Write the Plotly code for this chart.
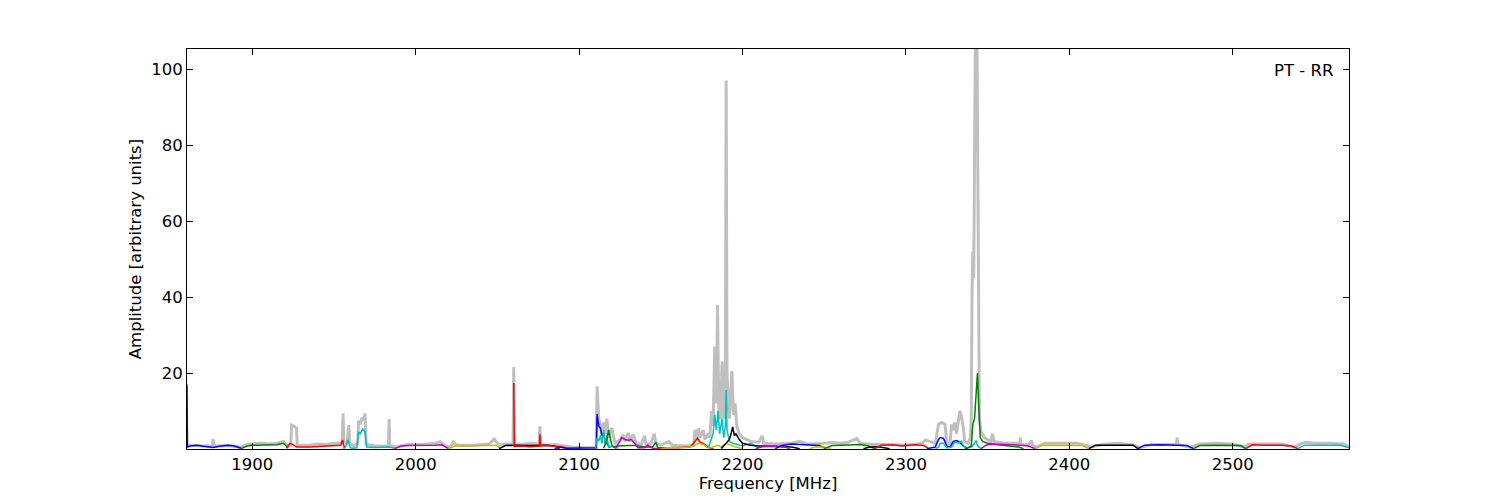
import plotly.graph_objects as go

# ---------------- data ----------------
# gray full spectrum
gray_f = [1860, 1862, 1870, 1875.5, 1876, 1876.5, 1885, 1893, 1897, 1905, 1910, 1915, 1919, 1921,
          1923.5, 1924, 1925.5, 1927, 1927.5, 1935, 1940, 1945, 1950, 1955, 1955.5, 1956, 1958, 1959,
          1959.7, 1962, 1964.5, 1965, 1966, 1967, 1968, 1969, 1969.6, 1975, 1983.3, 1983.7, 1984.1,
          1988, 1995, 2005, 2012, 2015, 2018, 2021, 2023, 2025, 2035, 2045, 2048, 2051, 2055, 2059.6,
          2060, 2060.4, 2065, 2070, 2075.6, 2076, 2076.4, 2080, 2085, 2090, 2095, 2105, 2110.5, 2111,
          2112, 2113, 2114, 2115, 2116, 2117, 2118, 2120, 2122, 2125, 2127, 2128, 2130, 2131, 2133,
          2135, 2138, 2140, 2141, 2144, 2146, 2147, 2150, 2155, 2157, 2165, 2170, 2171, 2172, 2173,
          2174, 2176, 2177, 2179, 2180, 2181, 2182, 2183, 2184, 2184.7, 2185.5, 2186.5, 2187.5, 2188.5,
          2189.5, 2190, 2190.5, 2191.5, 2192, 2193.5, 2194.5, 2195.5, 2196.5, 2198, 2200, 2205, 2210,
          2212, 2213, 2220, 2230, 2235, 2240, 2250, 2255, 2260, 2265, 2270, 2272, 2280, 2290, 2300,
          2310, 2312, 2316, 2318, 2320, 2322, 2324, 2325, 2327, 2328, 2329, 2330, 2331, 2333, 2334,
          2335, 2336, 2338, 2339.5, 2340, 2340.5, 2341, 2341.5, 2342, 2342.5, 2343.5, 2344, 2344.5,
          2345, 2346, 2348, 2350, 2352, 2353, 2354, 2360, 2365, 2369.8, 2370, 2370.3, 2375, 2377,
          2377.5, 2380, 2385, 2395, 2405, 2410, 2413, 2420, 2430, 2440, 2443, 2450, 2465.5, 2466,
          2466.5, 2474, 2480, 2490, 2500, 2507, 2510, 2530, 2538, 2542, 2545, 2550, 2560, 2568, 2571.2]
gray_a = [1.0, 1.0, 0.8, 0.8, 2.6, 0.8, 0.9, 0.5, 1.2, 1.6, 1.3, 1.5, 2.0, 1.0,
          1.0, 6.3, 6.0, 5.5, 1.0, 1.0, 1.3, 1.2, 1.5, 1.5, 9.4, 2.0, 1.5, 6.3,
          1.5, 0.8, 1.5, 7.5, 6.5, 8.2, 7.5, 9.3, 1.2, 0.8, 0.8, 7.9, 0.8,
          0.5, 1.2, 1.2, 1.5, 1.9, 0.8, 0.5, 1.8, 1.0, 1.0, 1.3, 2.6, 1.0, 1.3, 1.3,
          21.6, 1.3, 1.2, 1.5, 1.3, 6.0, 1.3, 1.0, 1.2, 0.8, 0.5, 0.3, 0.3, 16.5,
          8.0, 6.5, 3.0, 7.0, 4.0, 8.0, 3.0, 5.5, 1.5, 2.5, 3.7, 2.0, 4.3, 2.0, 3.8,
          1.5, 1.2, 3.5, 1.2, 1.5, 4.0, 1.5, 1.0, 2.0, 1.0, 0.8, 1.0, 5.0, 2.5, 5.5,
          3.0, 5.0, 2.5, 4.0, 3.0, 10.0, 6.0, 27.0, 12.0, 37.9, 10.0, 8.0, 23.0, 8.0,
          20.0, 97.0, 20.0, 10.0, 8.0, 20.5, 9.0, 12.0, 6.0, 4.0, 3.0, 2.0, 1.8,
          3.5, 1.5, 1.3, 1.5, 2.0, 1.3, 1.5, 1.7, 1.5, 1.8, 2.8, 1.5, 1.2, 1.2, 1.0,
          1.5, 2.4, 1.8, 1.5, 6.5, 7.0, 6.5, 1.5, 1.5, 6.5, 5.0, 7.0, 4.0, 10.0, 8.5,
          6.0, 2.0, 1.5, 3.0, 8.0, 42.0, 52.0, 45.0, 70.0, 108.0, 108.0, 60.0, 20.0,
          8.0, 4.5, 3.0, 2.5, 2.0, 4.0, 2.0, 1.5, 1.5, 1.5, 3.0, 1.2, 1.2, 2.2,
          1.0, 0.5, 1.5, 1.5, 1.5, 1.0, 0.5, 1.2, 1.5, 1.0, 0.3, 1.2, 1.2, 3.0,
          1.2, 0.5, 1.3, 1.5, 1.3, 0.5, 1.3, 1.3, 0.5, 1.5, 1.8, 1.5, 1.5, 1.3, 0.5]

# sub-band spectra (frequency list, amplitude list)
band01 = ([1860, 1860.3, 1862, 1866, 1870, 1876, 1880, 1885, 1889, 1893],
          [17.0, 0.5, 0.8, 1.0, 0.7, 0.4, 0.7, 1.0, 0.8, 0.2])
band02 = ([1893, 1897, 1900, 1905, 1910, 1915, 1919, 1922],
          [0.1, 0.8, 1.0, 1.0, 1.0, 1.1, 1.5, 0.3])
band03 = ([1921, 1923, 1924.5, 1927, 1935, 1945, 1950, 1954, 1955.3, 1955.6, 1956.5],
          [0.2, 1.5, 1.3, 0.5, 0.5, 0.8, 1.0, 1.0, 2.4, 1.5, 0.2])
band04 = ([1955.5, 1957, 1958.5, 1959, 1960, 1962, 1964, 1965, 1966, 1967.5, 1969, 1970, 1975, 1983.7, 1987],
          [0.2, 0.5, 2.4, 1.8, 0.3, 0.2, 0.3, 4.5, 4.0, 5.3, 4.5, 0.5, 0.4, 0.5, 0.2])
band05 = ([1987, 1991, 1995, 2005, 2012, 2016, 2020],
          [0.1, 0.8, 0.9, 0.9, 1.0, 1.1, 0.1])
band06 = ([2020, 2024, 2030, 2040, 2046, 2049, 2052],
          [0.1, 0.8, 0.8, 0.9, 1.0, 1.0, 0.1])
band07 = ([2051, 2055, 2060, 2070, 2080, 2085, 2088],
          [0.1, 0.9, 1.0, 0.9, 1.0, 0.8, 0.1])
band08 = ([2060, 2060.3, 2065, 2070, 2075.7, 2076, 2076.3, 2080, 2085, 2090, 2093],
          [17.4, 0.7, 0.8, 0.6, 0.8, 3.9, 0.8, 1.0, 0.7, 0.5, 0.1])
band09 = ([2085, 2088, 2092, 2100, 2108, 2110.5, 2111, 2112, 2113, 2114, 2115, 2116, 2117, 2119],
          [0.1, 0.5, 0.2, 0.2, 0.2, 0.3, 9.2, 6.0, 5.5, 3.5, 4.0, 2.0, 1.5, 0.3])
band10 = ([2110, 2111, 2112, 2113, 2114, 2115, 2116, 2117, 2118, 2120, 2122, 2124],
          [0.2, 3.0, 2.0, 3.5, 1.5, 5.0, 1.0, 3.5, 0.5, 0.8, 0.5, 0.2])
band11 = ([2115, 2117, 2118, 2119, 2120, 2121, 2124, 2130, 2135, 2140, 2145, 2147, 2148, 2150],
          [0.2, 2.5, 5.0, 3.0, 1.0, 0.5, 0.8, 0.9, 0.9, 0.5, 0.5, 1.8, 0.5, 0.1])
band12 = ([2122, 2125, 2126, 2128, 2130, 2132, 2134, 2136, 2140, 2142, 2145, 2150],
          [0.1, 2.0, 3.0, 2.5, 2.3, 2.5, 1.5, 0.3, 0.3, 1.0, 0.2, 0.1])
band13 = ([2148, 2150, 2160, 2168, 2170, 2172.5, 2174, 2176, 2180, 2182],
          [0.1, 0.3, 0.3, 0.5, 1.5, 2.8, 1.8, 1.5, 0.3, 0.1])
band14 = ([2150, 2155, 2165, 2170, 2173, 2176, 2178, 2180, 2185, 2187, 2190, 2196, 2200],
          [0.1, 0.4, 0.4, 0.8, 1.5, 1.2, 0.5, 0.3, 1.0, 0.5, 1.5, 0.5, 0.1])
band15 = ([2179, 2181, 2182, 2183, 2184, 2185, 2186, 2187.5, 2188.5, 2189.5, 2190, 2190.5, 2192, 2194, 2196, 2200, 2205, 2210],
          [0.2, 3.0, 4.0, 9.0, 5.0, 10.0, 4.0, 8.0, 3.0, 6.0, 15.5, 5.0, 2.0, 1.5, 1.2, 0.8, 1.5, 0.3])
band16 = ([2187, 2190, 2192, 2193, 2194, 2195, 2196, 2198, 2200, 2205, 2210, 2220, 2230, 2235],
          [0.1, 1.5, 2.5, 4.0, 5.8, 3.5, 4.0, 2.5, 1.5, 1.0, 0.8, 0.7, 0.5, 0.1])
band17 = ([2208, 2212, 2220, 2226, 2229],
          [0.1, 0.6, 0.7, 0.5, 0.1])
band18 = ([2220, 2224, 2230, 2235, 2240, 2247, 2251],
          [0.1, 0.9, 1.3, 1.2, 1.1, 0.9, 0.1])
band19 = ([2241, 2245, 2250, 2254],
          [0.1, 0.6, 0.5, 0.1])
band20 = ([2250, 2255, 2260, 2268, 2272, 2277, 2281],
          [0.1, 0.9, 1.0, 1.1, 1.2, 0.8, 0.1])
band21 = ([2274, 2278, 2283, 2287, 2290],
          [0.1, 0.5, 0.6, 0.3, 0.1])
band22 = ([2281, 2285, 2292, 2298, 2301, 2306, 2311, 2314],
          [0.1, 1.0, 1.1, 0.8, 1.0, 1.1, 0.9, 0.1])
band23 = ([2313, 2316, 2318, 2320, 2321, 2323, 2325, 2327, 2329, 2331, 2333, 2335, 2338],
          [0.1, 0.3, 0.5, 2.5, 3.0, 2.8, 0.8, 0.5, 2.0, 2.2, 1.8, 0.8, 0.1])
band24 = ([2318, 2320, 2321, 2323, 2325, 2328, 2330, 2332, 2334, 2335, 2337, 2340, 2342, 2343, 2344, 2346],
          [0.1, 0.5, 1.5, 1.5, 0.3, 0.5, 1.8, 1.5, 2.0, 1.0, 0.3, 0.5, 1.5, 2.2, 0.8, 0.1])
band25 = ([2336, 2338, 2340, 2341, 2342, 2343, 2343.8, 2344.5, 2345.5, 2347, 2350, 2355, 2360, 2365, 2369, 2372],
          [0.1, 0.3, 0.8, 6.5, 8.0, 15.0, 20.0, 12.0, 3.0, 2.0, 1.5, 1.2, 1.0, 0.8, 0.5, 0.1])
band26 = ([2346, 2349, 2352, 2360, 2370, 2375, 2379],
          [0.1, 1.0, 1.3, 1.2, 1.0, 0.8, 0.1])
band27 = ([2379, 2383, 2390, 2400, 2408, 2412],
          [0.1, 0.9, 1.0, 1.0, 0.9, 0.1])
band28 = ([2412, 2416, 2425, 2435, 2439, 2442],
          [0.1, 1.0, 1.0, 1.1, 1.0, 0.1])
band29 = ([2442, 2446, 2455, 2466, 2472, 2476],
          [0.1, 1.0, 1.1, 1.0, 0.9, 0.1])
band30 = ([2476, 2480, 2490, 2500, 2505, 2508],
          [0.1, 0.9, 1.0, 1.0, 0.9, 0.1])
band31 = ([2508, 2512, 2520, 2530, 2536, 2540],
          [0.1, 1.1, 1.0, 1.0, 0.8, 0.1])
band32 = ([2540, 2544, 2550, 2560, 2566, 2571.2],
          [0.1, 1.0, 1.0, 1.0, 1.0, 0.3])

bands = [band01, band02, band03, band04, band05, band06, band07, band08,
         band09, band10, band11, band12, band13, band14, band15, band16,
         band17, band18, band19, band20, band21, band22, band23, band24,
         band25, band26, band27, band28, band29, band30, band31, band32]
band_colors = ["b", "g", "r", "c", "m", "y", "k", "r",
               "b", "c", "g", "m", "r", "y", "c", "k",
               "m", "b", "y", "g", "k", "r", "b", "c",
               "g", "m", "y", "k", "b", "g", "r", "c"]

x_ticks = [1900, 2000, 2100, 2200, 2300, 2400, 2500]
y_ticks = [20, 40, 60, 80, 100]
label_text = "PT - RR"

# ---------------- style ----------------
MPL = {"b": "#0000ff", "g": "#008000", "r": "#ff0000", "c": "#00bfbf",
       "m": "#bf00bf", "y": "#bfbf00", "k": "#000000"}
FONT = "DejaVu Sans"

fig = go.Figure()
fig.add_trace(go.Scatter(x=gray_f, y=gray_a, mode="lines",
                         line=dict(color="#bfbfbf", width=3), hoverinfo="skip"))
for (bf, ba), c in zip(bands, band_colors):
    fig.add_trace(go.Scatter(x=bf, y=ba, mode="lines",
                             line=dict(color=MPL[c], width=1.5)))

axis_common = dict(showgrid=False, zeroline=False, showline=True, linecolor="black",
                   linewidth=1, mirror="allticks", ticks="inside", ticklen=6,
                   tickcolor="black", tickwidth=1,
                   tickfont=dict(family=FONT, size=16.5, color="black"))

fig.update_xaxes(range=[1860, 2571.2], tickvals=x_ticks,
                 ticktext=[str(v) for v in x_ticks],
                 title=dict(text="Frequency [MHz]", font=dict(family=FONT, size=16.5, color="black"),
                            standoff=2),
                 ticklabelstandoff=0, **axis_common)
fig.update_yaxes(range=[0, 105.3], tickvals=y_ticks,
                 ticktext=[str(v) for v in y_ticks],
                 title=dict(text="Amplitude [arbitrary units]", font=dict(family=FONT, size=16.5, color="black"),
                            standoff=5),
                 ticklabelstandoff=0, **axis_common)

fig.add_annotation(text=label_text, xref="paper", yref="paper", x=0.988, y=0.9475,
                   xanchor="right", yanchor="middle", showarrow=False,
                   font=dict(family=FONT, size=16.5, color="black"))

# page body has an 8px margin, so the figure is offset by 8px right and down
fig.update_layout(width=1492, height=492, showlegend=False,
                  plot_bgcolor="white", paper_bgcolor="white",
                  margin=dict(l=179, r=151, t=41, b=51, autoexpand=False),
                  font=dict(family=FONT, size=16.5, color="black"))

fig.write_html("out.html")
